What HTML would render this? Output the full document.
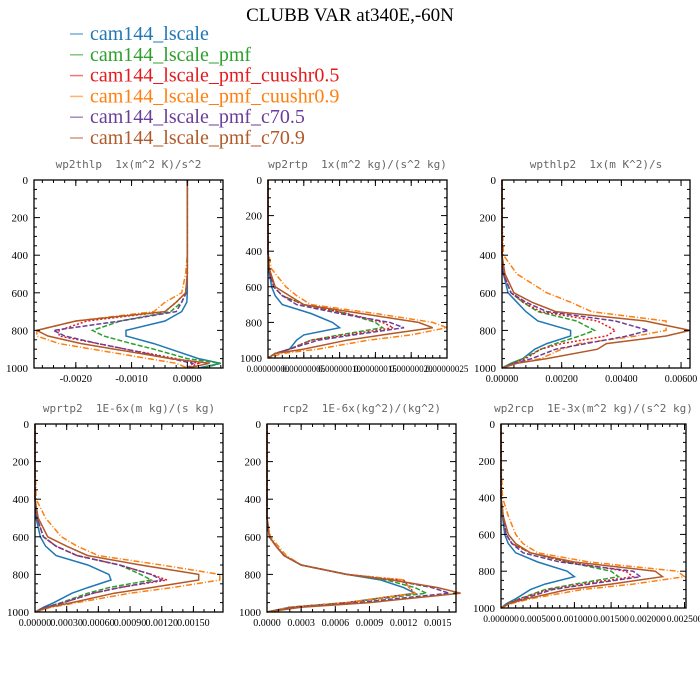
<!DOCTYPE html>
<html><head><meta charset="utf-8"><style>
html,body{margin:0;padding:0;background:#fff;}
svg{display:block;}
text{white-space:pre;}
</style></head><body>
<svg id="chart" width="700" height="700" xmlns="http://www.w3.org/2000/svg" xml:space="preserve">
<text x="350" y="21" text-anchor="middle" font-family="Liberation Serif, serif" font-size="19">CLUBB VAR at340E,-60N</text>
<g id="legend"></g>
<g id="panels"></g>
</svg>
<script>
const levels = [0,200,400,500,600,650,700,750,800,830,870,900,950,975,1000];
const seriesNames = ["cam144_lscale","cam144_lscale_pmf","cam144_lscale_pmf_cuushr0.5","cam144_lscale_pmf_cuushr0.9","cam144_lscale_pmf_c70.5","cam144_lscale_pmf_c70.9"];
const p1Blue   = [0,0,0,0,0,-0.00001,-0.0001,-0.0004,-0.0011,-0.0011,-0.0006,-0.0003,0.0002,0.0006,0.0002];
const p1Green  = [0,0,0,0,-0.00002,-0.0001,-0.0003,-0.0012,-0.0017,-0.0015,-0.0010,-0.0006,0.0000,0.0006,0.0003];
const p1Red    = [0,0,0,0,-0.00003,-0.0002,-0.0004,-0.0018,-0.0023,-0.0023,-0.0016,-0.0011,-0.0002,0.0002,0];
const p1Orange = [0,0,0,-0.00003,-0.0001,-0.0004,-0.0006,-0.0020,-0.0027,-0.0027,-0.0023,-0.0017,-0.0007,-0.0002,0];
const p1Purple = [0,0,0,0,-0.00002,-0.0001,-0.0002,-0.0012,-0.0024,-0.0022,-0.0016,-0.0011,-0.0003,0.0001,0];
const p1Brown  = [0,0,0,0,-0.00003,-0.0002,-0.0004,-0.0020,-0.0027,-0.0025,-0.0019,-0.0013,-0.0003,0.0004,0];
const p2Blue   = [0,0,0,0.1,0.5,1,2,6,9,10,5,4,3,1,0];
const p2Green  = [0,0,0,0.1,0.8,2,5,11,15,16,10,6,3,1,0];
const p2Red    = [0,0,0,0.1,0.8,2,5,11,16,17.5,11,6,3,1,0];
const p2Orange = [0,0,0,0.5,2.5,4,6,15,23,25,20,14,7,2,0];
const p2Purple = [0,0,0,0.1,0.8,2,4,10,17,19,12,7,3,1,0];
const p2Brown  = [0,0,0,0.2,1,3,5,13,21,23,16,11,5,1,0];
const p3Blue   = [0,0,0,0.05,0.2,0.5,0.8,1.2,2.3,2.3,1.5,1.1,0.7,0.3,0];
const p3Green  = [0,0,0,0.05,0.3,0.7,1.2,2.5,3.1,2.6,1.8,1.3,0.7,0.3,0];
const p3Red    = [0,0,0,0.05,0.3,0.7,1.3,3.2,3.8,3.5,2.0,1.3,0.8,0.4,0];
const p3Orange = [0,0,0.05,0.5,1.5,2.3,3.0,5.5,5.5,4.5,2.6,2.0,1.3,0.5,0];
const p3Purple = [0,0,0,0.05,0.3,0.8,1.5,3.8,4.9,4.2,2.8,1.8,1.0,0.4,0];
const p3Brown  = [0,0,0,0.1,0.4,1.0,1.8,4.8,6.3,5.5,3.5,3.2,1.5,0.5,0];
const p4Blue   = [0,0,0,0.1,0.5,1,2,5,7,7.2,5,3.5,1.8,0.8,0];
const p4Green  = [0,0,0,0.2,0.8,2,4,8,10,11,7,5,2.5,1,0];
const p4Red    = [0,0,0,0.2,0.8,2,4,8,11,12.5,8,5.5,2.7,1,0];
const p4Orange = [0,0,0.1,1,2.5,4,6,12,17.5,17.5,13,9,4,1.5,0];
const p4Purple = [0,0,0,0.2,0.8,2,4,8,11,12,8,5.5,2.7,1,0];
const p4Brown  = [0,0,0,0.3,1.2,3,5,10,15.5,15.5,11,7.5,3.5,1.3,0];
const p5Blue   = [0,0,0,0,0.2,0.8,1.5,3,7,10,12,13,7,2,0];
const p5Green  = [0,0,0,0,0.2,0.8,1.5,3,7,10.5,13,14,7,2,0];
const p5Red    = [0,0,0,0,0.2,0.8,1.5,3,7,12,12.5,13,7,2,0];
const p5Orange = [0,0,0,0,0.3,1,1.7,3,7,12,12.5,13,7,2,0];
const p5Purple = [0,0,0,0,0.2,0.8,1.5,3,7,11,14.5,16,8,2.5,0];
const p5Brown  = [0,0,0,0,0.2,0.8,1.5,3,7,11,15,17,9,3,0];
const p6Blue   = [0,0,0,0.2,0.5,1,2,5,9,10,6,4,2,0.8,0];
const p6Green  = [0,0,0,0.3,0.7,1.5,4,9,15,16,10,6,2.5,1,0];
const p6Red    = [0,0,0,0.3,0.7,1.5,4,9,17,18,11,6.5,2.5,1,0];
const p6Orange = [0,0,0.2,1,2,3,5,12,24,25,18,11,4,1.5,0];
const p6Purple = [0,0,0,0.3,0.7,1.5,3,8,18,19,12,7,3,1,0];
const p6Brown  = [0,0,0,0.3,1,2,4,10,21,22,15,9,3.5,1.2,0];
const yTicks = [0,200,400,600,800,1000];
const p1Ticks = [-0.002,-0.001,0];
const p1Labels = ["-0.0020","-0.0010","0.0000"];
const p2Ticks = [0,5,10,15,20,25];
const p2Labels = ["0.00000000","0.00000005","0.00000010","0.00000015","0.00000020","0.00000025"];
const p3Ticks = [0,2,4,6];
const p3Labels = ["0.00000","0.00200","0.00400","0.00600"];
const p4Ticks = [0,3,6,9,12,15];
const p4Labels = ["0.00000","0.00030","0.00060","0.00090","0.00120","0.00150"];
const p5Ticks = [0,3,6,9,12,15];
const p5Labels = ["0.0000","0.0003","0.0006","0.0009","0.0012","0.0015"];
const p6Ticks = [0,5,10,15,20,25];
const p6Labels = ["0.000000","0.000500","0.001000","0.001500","0.002000","0.002500"];

const colors = ["#1f77b4","#2ca02c","#e41a1c","#ff7f0e","#6a3d9a","#b15928"];
const dashes = ["","5,2","2,2","6,2,1,2","5,2",""];
const NS = "http://www.w3.org/2000/svg";
function mk(tag, attrs, parent){const e=document.createElementNS(NS,tag);for(const k in attrs)e.setAttribute(k,attrs[k]);parent.appendChild(e);return e;}

const panels = [
 {name:"wp2thlp",title:"wp2thlp  1x(m^2 K)/s^2",l:34,r:223,t:180,b:368,xmin:-0.00275,xmax:0.00064,ticks:p1Ticks,labels:p1Labels,minor:0.0002,fs:10.5,series:[p1Blue,p1Green,p1Red,p1Orange,p1Purple,p1Brown]},
 {name:"wp2rtp",title:"wp2rtp  1x(m^2 kg)/(s^2 kg)",l:268,r:447,t:180,b:358,xmin:0,xmax:25,ticks:p2Ticks,labels:p2Labels,minor:1,fs:9,series:[p2Blue,p2Green,p2Red,p2Orange,p2Purple,p2Brown]},
 {name:"wpthlp2",title:"wpthlp2  1x(m K^2)/s",l:502,r:690,t:180,b:368,xmin:0,xmax:6.3,ticks:p3Ticks,labels:p3Labels,minor:0.4,fs:10,series:[p3Blue,p3Green,p3Red,p3Orange,p3Purple,p3Brown]},
 {name:"wprtp2",title:"wprtp2  1E-6x(m kg)/(s kg)",l:35,r:223,t:424,b:612,xmin:0,xmax:17.8,ticks:p4Ticks,labels:p4Labels,minor:1,fs:10,series:[p4Blue,p4Green,p4Red,p4Orange,p4Purple,p4Brown]},
 {name:"rcp2",title:"rcp2  1E-6x(kg^2)/(kg^2)",l:267,r:456,t:424,b:612,xmin:0,xmax:16.6,ticks:p5Ticks,labels:p5Labels,minor:1,fs:10,series:[p5Blue,p5Green,p5Red,p5Orange,p5Purple,p5Brown]},
 {name:"wp2rcp",title:"wp2rcp  1E-3x(m^2 kg)/(s^2 kg)",l:501,r:686,t:424,b:608,xmin:0,xmax:25.2,ticks:p6Ticks,labels:p6Labels,minor:1,fs:9.5,series:[p6Blue,p6Green,p6Red,p6Orange,p6Purple,p6Brown]}
];

const legend = document.getElementById('legend');
seriesNames.forEach((n,i)=>{
  const y = 34 + i*20.8;
  const ln = mk('line',{x1:70,x2:83,y1:y,y2:y,stroke:colors[i],'stroke-width':1.5,'stroke-opacity':0.6},legend);
  
  
  const t = mk('text',{x:90,y:y+6,fill:colors[i],'font-family':'Liberation Serif, serif','font-size':20},legend);
  t.textContent = n;
  
  
});

const root = document.getElementById('panels');
panels.forEach(p=>{
  const g = mk('g',{},root);
  
  
  const X = v => p.l + (v-p.xmin)/(p.xmax-p.xmin)*(p.r-p.l);
  const Y = v => p.t + v/1000*(p.b-p.t);
  const tt = mk('text',{x:(p.l+p.r)/2,y:p.t-12,'text-anchor':'middle',fill:'#666','font-family':'DejaVu Sans Mono, Liberation Mono, monospace','font-size':11},g);
  tt.textContent = p.title;
  
  
  p.series.forEach((vals,i)=>{
    const pts = vals.map((v,k)=>X(v).toFixed(1)+','+Y(levels[k]).toFixed(1)).join(' ');
    const pl = mk('polyline',{points:pts,fill:'none',stroke:colors[i],'stroke-width':1.5,'stroke-dasharray':dashes[i]},g);
    
    
  });
  const fr = mk('rect',{x:p.l,y:p.t,width:p.r-p.l,height:p.b-p.t,fill:'none',stroke:'#000','stroke-width':1.3},g);
  
  
  for(let v=0; v<=1000; v+=50){
    const major = v%200===0; const len = major?6:3;
    mk('line',{x1:p.l,x2:p.l+len,y1:Y(v),y2:Y(v),stroke:'#000','stroke-width':1},g);
    mk('line',{x1:p.r,x2:p.r-len,y1:Y(v),y2:Y(v),stroke:'#000','stroke-width':1},g);
  }
  yTicks.forEach(v=>{
    const t = mk('text',{x:p.l-6,y:Y(v)+4,'text-anchor':'end','font-family':'Liberation Serif, serif','font-size':11},g);
    t.textContent = v;
    
    
  });
  const start = Math.ceil(p.xmin/p.minor)*p.minor;
  for(let v=start; v<=p.xmax+1e-12; v+=p.minor){
    mk('line',{x1:X(v),x2:X(v),y1:p.b,y2:p.b-3,stroke:'#000','stroke-width':1},g);
    mk('line',{x1:X(v),x2:X(v),y1:p.t,y2:p.t+3,stroke:'#000','stroke-width':1},g);
  }
  p.ticks.forEach((v,k)=>{
    mk('line',{x1:X(v),x2:X(v),y1:p.b,y2:p.b-6,stroke:'#000','stroke-width':1},g);
    mk('line',{x1:X(v),x2:X(v),y1:p.t,y2:p.t+6,stroke:'#000','stroke-width':1},g);
    const t = mk('text',{x:X(v),y:p.b+14,'text-anchor':'middle','font-family':'Liberation Serif, serif','font-size':p.fs},g);
    t.textContent = p.labels[k];
    
    
  });
});
</script>
</body></html>
